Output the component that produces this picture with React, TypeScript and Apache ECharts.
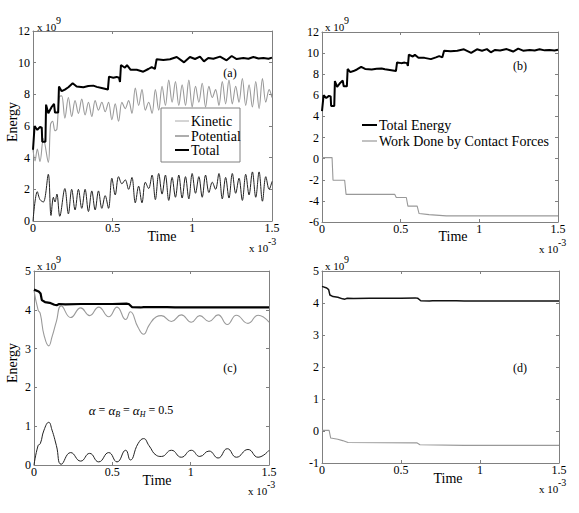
import React, { useEffect, useRef } from "react";
import * as echarts from "echarts";

// time in units of 1e-3 s, energy in units of 1e9

const totalA: [number, number][] = [
  [0, 4.5], [0.01, 6.0], [0.027, 5.75], [0.044, 5.95], [0.055, 5.9], [0.058, 5.0], [0.078, 5.0],
  [0.082, 7.35], [0.096, 6.8], [0.117, 7.2], [0.132, 7.4], [0.138, 6.85], [0.158, 6.85], [0.163, 8.5],
  [0.18, 8.2], [0.2, 8.3], [0.222, 8.45], [0.249, 8.7], [0.274, 8.5], [0.316, 8.45], [0.347, 8.52],
  [0.379, 8.55], [0.4, 8.47], [0.431, 8.4], [0.47, 8.3], [0.477, 9.12], [0.504, 9.05], [0.525, 9.1],
  [0.54, 9.05], [0.546, 8.78], [0.552, 9.85], [0.577, 9.68], [0.59, 9.85], [0.613, 9.55], [0.651, 9.55],
  [0.692, 9.43], [0.724, 9.6], [0.745, 9.72], [0.765, 9.6], [0.776, 10.22], [0.818, 10.17], [0.86, 10.22],
  [0.902, 10.36], [0.948, 10.02], [0.985, 10.36], [1.017, 10.23], [1.048, 10.38], [1.073, 10.08],
  [1.1, 10.3], [1.132, 10.25], [1.174, 10.38], [1.215, 10.15], [1.247, 10.42], [1.278, 10.23],
  [1.32, 10.3], [1.352, 10.25], [1.383, 10.36], [1.415, 10.26], [1.446, 10.3], [1.478, 10.25], [1.5, 10.32],
];

const kineticA: [number, number][] = [
  [0, 4.5], [0.013, 3.8], [0.027, 4.55], [0.044, 3.75], [0.065, 5.2], [0.096, 3.7], [0.11, 6.1],
  [0.123, 6.3], [0.138, 5.7], [0.15, 5.8], [0.165, 7.85], [0.18, 7.9], [0.2, 6.5], [0.222, 7.8],
  [0.243, 6.6], [0.264, 7.6], [0.285, 6.8], [0.306, 7.7], [0.327, 6.7], [0.348, 7.5], [0.369, 6.6],
  [0.39, 7.6], [0.411, 7.0], [0.432, 7.5], [0.453, 6.9], [0.474, 7.5], [0.495, 6.4], [0.516, 7.4],
  [0.537, 6.3], [0.558, 7.5], [0.579, 7.1], [0.6, 7.6], [0.621, 6.8], [0.642, 8.4], [0.663, 7.3],
  [0.684, 8.3], [0.705, 7.0], [0.726, 7.5], [0.747, 6.8], [0.768, 8.3], [0.789, 7.0], [0.81, 8.5],
  [0.831, 7.3], [0.852, 8.9], [0.873, 7.5], [0.894, 8.8], [0.915, 7.3], [0.936, 8.6], [0.957, 7.3],
  [0.978, 8.9], [0.999, 7.2], [1.02, 8.5], [1.041, 7.5], [1.062, 8.7], [1.083, 7.2], [1.104, 8.5],
  [1.125, 7.8], [1.146, 8.3], [1.167, 7.3], [1.188, 8.8], [1.209, 7.4], [1.23, 8.9], [1.251, 7.4],
  [1.272, 8.5], [1.293, 7.5], [1.314, 9.0], [1.335, 7.3], [1.356, 8.6], [1.377, 7.2], [1.398, 8.8],
  [1.419, 7.1], [1.44, 9.0], [1.461, 7.5], [1.482, 8.3], [1.5, 7.8],
];

const potentialA: [number, number][] = [
  [0, 0], [0.027, 1.85], [0.044, 1.35], [0.065, 1.2], [0.096, 2.95], [0.113, 0.35], [0.128, 1.5],
  [0.138, 1.2], [0.15, 1.7], [0.168, 0.3], [0.2, 2.05], [0.222, 0.45], [0.243, 2.0], [0.264, 0.7],
  [0.285, 2.0], [0.306, 0.8], [0.327, 2.0], [0.348, 0.6], [0.369, 1.9], [0.39, 0.7], [0.411, 1.9],
  [0.432, 0.8], [0.453, 1.6], [0.474, 0.8], [0.495, 2.7], [0.516, 1.65], [0.537, 2.8], [0.558, 2.35],
  [0.579, 2.6], [0.6, 2.0], [0.621, 2.75], [0.642, 1.15], [0.663, 2.2], [0.684, 1.15], [0.705, 2.45],
  [0.726, 2.05], [0.747, 2.9], [0.768, 1.35], [0.789, 3.0], [0.81, 1.7], [0.831, 2.9], [0.852, 1.3],
  [0.873, 2.75], [0.894, 1.5], [0.915, 2.9], [0.936, 1.45], [0.957, 2.8], [0.978, 1.4], [0.999, 3.0],
  [1.02, 1.75], [1.041, 2.8], [1.062, 1.5], [1.083, 2.9], [1.104, 1.8], [1.125, 2.45], [1.146, 2.0],
  [1.167, 3.0], [1.188, 1.4], [1.209, 2.75], [1.23, 1.45], [1.251, 3.0], [1.272, 1.75], [1.293, 2.7],
  [1.314, 1.3], [1.335, 2.95], [1.356, 1.65], [1.377, 3.1], [1.398, 1.5], [1.419, 3.1], [1.44, 1.25],
  [1.461, 2.8], [1.482, 2.0], [1.5, 2.5],
];

const workB: [number, number][] = [
  [0, 0.1], [0.064, 0.1], [0.07, -2.05], [0.144, -2.05], [0.153, -3.38], [0.462, -3.38],
  [0.472, -3.68], [0.536, -3.68], [0.546, -4.5], [0.605, -4.5], [0.617, -5.2], [0.68, -5.3],
  [0.79, -5.42], [1.5, -5.42],
];

const totalC: [number, number][] = [
  [0, 4.52], [0.03, 4.47], [0.042, 4.42], [0.05, 4.25], [0.07, 4.2], [0.1, 4.18], [0.13, 4.13],
  [0.145, 4.12], [0.16, 4.15], [0.2, 4.14], [0.3, 4.15], [0.4, 4.15], [0.5, 4.15], [0.59, 4.16],
  [0.605, 4.15], [0.625, 4.07], [0.68, 4.06], [0.7, 4.07], [0.85, 4.07], [0.9, 4.06], [1.5, 4.06],
];

const kineticC: [number, number][] = [
  [0, 4.5], [0.026, 4.0], [0.04, 3.9], [0.064, 3.35], [0.094, 3.07], [0.115, 3.3], [0.143, 3.7],
  [0.174, 4.1], [0.234, 3.8], [0.298, 4.05], [0.355, 3.85], [0.413, 4.07], [0.477, 3.82], [0.53, 4.07],
  [0.585, 3.75], [0.615, 3.95], [0.664, 3.55], [0.7, 3.37], [0.734, 3.6], [0.781, 3.82], [0.813, 3.85],
  [0.877, 3.7], [0.94, 3.87], [1.004, 3.68], [1.058, 3.85], [1.117, 3.7], [1.175, 3.87], [1.234, 3.62],
  [1.292, 3.86], [1.366, 3.65], [1.43, 3.86], [1.5, 3.68],
];

const potentialC: [number, number][] = [
  [0, 0], [0.026, 0.5], [0.04, 0.55], [0.064, 0.9], [0.094, 1.1], [0.115, 0.9], [0.143, 0.5],
  [0.174, 0.02], [0.234, 0.32], [0.298, 0.1], [0.355, 0.3], [0.413, 0.08], [0.477, 0.32], [0.53, 0.08],
  [0.585, 0.38], [0.615, 0.13], [0.664, 0.55], [0.7, 0.68], [0.734, 0.5], [0.781, 0.25], [0.813, 0.22],
  [0.877, 0.38], [0.94, 0.2], [1.004, 0.38], [1.058, 0.22], [1.117, 0.36], [1.175, 0.18], [1.234, 0.42],
  [1.292, 0.2], [1.366, 0.4], [1.43, 0.2], [1.5, 0.38],
];

const totalD: [number, number][] = [
  [0, 4.52], [0.03, 4.47], [0.042, 4.42], [0.05, 4.25], [0.07, 4.2], [0.1, 4.18], [0.13, 4.13],
  [0.145, 4.12], [0.16, 4.15], [0.2, 4.14], [0.3, 4.15], [0.4, 4.15], [0.5, 4.15], [0.59, 4.16],
  [0.605, 4.15], [0.625, 4.07], [0.68, 4.06], [0.7, 4.07], [0.85, 4.07], [0.9, 4.06], [1.5, 4.06],
];

const workD: [number, number][] = [
  [0, 0.02], [0.045, 0.02], [0.055, -0.22], [0.1, -0.26], [0.13, -0.3], [0.165, -0.36], [0.6, -0.37],
  [0.62, -0.43], [0.9, -0.45], [1.5, -0.45],
];

const legendA = ["Kinetic", "Potential", "Total"];
const legendB = ["Total Energy", "Work Done by Contact Forces"];
const panelTags = ["(a)", "(b)", "(c)", "(d)"];

const FONT = "Liberation Serif";
const AX = "#808080";

function txt(x: number, y: number, text: string, size: number, align = "left", extra: any = {}) {
  return {
    type: "text",
    x,
    y,
    z: 100,
    style: {
      text,
      fill: "#000",
      fontSize: size,
      fontFamily: FONT,
      align,
      textAlign: align,
      verticalAlign: "middle",
      textVerticalAlign: "middle",
    },
    ...extra,
  };
}

function line(x1: number, y1: number, x2: number, y2: number, stroke: string, w: number) {
  return { type: "line", z: 100, shape: { x1, y1, x2, y2 }, style: { stroke, lineWidth: w } };
}

function xAxes(g: number) {
  const common = {
    type: "value",
    gridIndex: g,
    min: 0,
    max: 1.5,
    interval: 0.5,
    axisLine: { show: true, onZero: false, lineStyle: { color: AX, width: 1 } },
    axisTick: { show: true, inside: true, length: 3, lineStyle: { color: AX } },
    splitLine: { show: false },
  };
  return [
    {
      ...common,
      position: "bottom",
      axisLabel: { show: true, color: "#000", fontFamily: FONT, fontSize: 12, margin: 1 },
    },
    { ...common, position: "top", axisLabel: { show: false } },
  ];
}

function yAxes(g: number, min: number, max: number, interval: number) {
  const common = {
    type: "value",
    gridIndex: g,
    min,
    max,
    interval,
    axisLine: { show: true, onZero: false, lineStyle: { color: AX, width: 1 } },
    axisTick: { show: true, inside: true, length: 3, lineStyle: { color: AX } },
    splitLine: { show: false },
  };
  return [
    {
      ...common,
      position: "left",
      axisLabel: { show: true, color: "#000", fontFamily: FONT, fontSize: 12, margin: 3 },
    },
    { ...common, position: "right", axisLabel: { show: false } },
  ];
}

function ser(name: string, data: [number, number][], g: number, color: string, width: number, z = 2, smooth: any = false) {
  return {
    name,
    type: "line",
    xAxisIndex: g * 2,
    yAxisIndex: g * 2,
    data,
    showSymbol: false,
    symbol: "none",
    smooth,
    z,
    lineStyle: { color, width },
  };
}

function sci(x: number, y: number, exp: string) {
  return [txt(x, y, "x 10", 11), txt(x + 19, y - 7, exp, 10)];
}

export default function App() {
  const ref = useRef<HTMLDivElement>(null);
  useEffect(() => {
    if (!ref.current) return;
    const chart = echarts.init(ref.current, undefined, { renderer: "svg" });
    const grids = [
      { left: 33, top: 31, width: 239, height: 190 },
      { left: 322, top: 32, width: 236, height: 190 },
      { left: 34, top: 271, width: 235, height: 194 },
      { left: 322, top: 271, width: 237, height: 192 },
    ];
    const graphic: any[] = [
      // panel (a) legend
      { type: "rect", z: 99, shape: { x: 161, y: 108, width: 79, height: 54 }, style: { fill: "#fff", stroke: AX, lineWidth: 1 } },
      line(175, 121, 189, 121, "#aaa", 1),
      line(175, 136, 189, 136, "#777", 1.2),
      line(175, 150, 189, 150, "#000", 2),
      txt(191, 121, legendA[0], 14),
      txt(191, 136, legendA[1], 14),
      txt(191, 150, legendA[2], 14),
      // panel (b) legend
      line(362, 125, 377, 125, "#000", 2),
      line(362, 141, 377, 141, "#999", 1.2),
      txt(379, 125, legendB[0], 14),
      txt(379, 141, legendB[1], 14),
      // tags
      txt(230, 73, panelTags[0], 12, "center"),
      txt(520, 66, panelTags[1], 12, "center"),
      txt(230, 368, panelTags[2], 12, "center"),
      txt(520, 368, panelTags[3], 12, "center"),
      // axis names
      txt(162, 236, "Time", 14, "center"),
      txt(453, 236, "Time", 14, "center"),
      txt(157, 480, "Time", 14, "center"),
      txt(448, 478, "Time", 14, "center"),
      txt(12, 122, "Energy", 14, "center", { rotation: Math.PI / 2 }),
      txt(12, 363, "Energy", 14, "center", { rotation: Math.PI / 2 }),
      // scale factors
      ...sci(37, 27, "9"),
      ...sci(325, 27, "9"),
      ...sci(37, 266, "9"),
      ...sci(325, 266, "9"),
      ...sci(249, 248, "-3"),
      ...sci(539, 249, "-3"),
      ...sci(248, 491, "-3"),
      ...sci(539, 489, "-3"),
      // formula in panel (c)
      {
        type: "text",
        x: 131,
        y: 410,
        z: 100,
        style: {
          text: "{a|α} = {a|α}{s|B} = {a|α}{s|H} = 0.5",
          fill: "#000",
          fontSize: 12,
          fontFamily: FONT,
          align: "center",
          textAlign: "center",
          verticalAlign: "middle",
          textVerticalAlign: "middle",
          lineHeight: 16,
          rich: {
            a: { fontStyle: "italic", fontSize: 13, fontFamily: FONT, fill: "#000", lineHeight: 16 },
            s: { fontStyle: "italic", fontSize: 8, fontFamily: FONT, fill: "#000", verticalAlign: "bottom", lineHeight: 16 },
          },
        },
      },
    ];
    chart.setOption({
      animation: false,
      backgroundColor: "#fff",
      textStyle: { fontFamily: FONT },
      grid: grids,
      xAxis: [...xAxes(0), ...xAxes(1), ...xAxes(2), ...xAxes(3)],
      yAxis: [...yAxes(0, 0, 12, 2), ...yAxes(1, -6, 12, 2), ...yAxes(2, 0, 5, 1), ...yAxes(3, -1, 5, 1)],
      series: [
        ser("Kinetic", kineticA, 0, "#9a9a9a", 1.1, 2, 0.35),
        ser("Potential", potentialA, 0, "#222", 1, 2, 0.35),
        ser("Total", totalA, 0, "#000", 2, 3),
        ser("Total Energy", totalA, 1, "#000", 2, 3),
        ser("Work Done by Contact Forces", workB, 1, "#999", 1.1),
        ser("Kinetic c", kineticC, 2, "#9a9a9a", 1.1, 2, 0.5),
        ser("Potential c", potentialC, 2, "#222", 1, 2, 0.5),
        ser("Total c", totalC, 2, "#000", 2.2, 3),
        ser("Total d", totalD, 3, "#111", 1.5, 3),
        ser("Work d", workD, 3, "#999", 1.1),
      ],
      graphic,
    } as any);
    return () => chart.dispose();
  }, []);
  return (
    <div
      ref={ref}
      style={{ position: "fixed", left: 0, top: 0, width: 579, height: 513, background: "#fff" }}
    />
  );
}
